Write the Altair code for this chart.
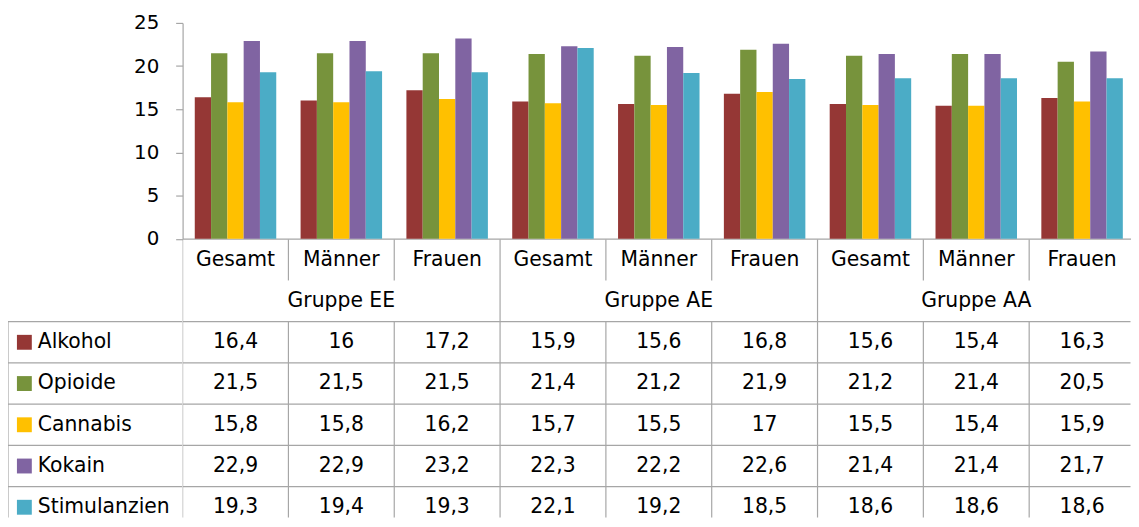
import altair as alt
import pandas as pd

# ---- data ----
groups = ["Gruppe EE", "Gruppe AE", "Gruppe AA"]
subgroups = ["Gesamt", "Männer", "Frauen"]
series = ["Alkohol", "Opioide", "Cannabis", "Kokain", "Stimulanzien"]
alkohol = [16.4, 16.0, 17.2, 15.9, 15.6, 16.8, 15.6, 15.4, 16.3]
opioide = [21.5, 21.5, 21.5, 21.4, 21.2, 21.9, 21.2, 21.4, 20.5]
cannabis = [15.8, 15.8, 16.2, 15.7, 15.5, 17.0, 15.5, 15.4, 15.9]
kokain = [22.9, 22.9, 23.2, 22.3, 22.2, 22.6, 21.4, 21.4, 21.7]
stimulanzien = [19.3, 19.4, 19.3, 22.1, 19.2, 18.5, 18.6, 18.6, 18.6]
colors = ["#953735", "#77933C", "#FFC000", "#8064A2", "#4BACC6"]
y_ticks = [0, 5, 10, 15, 20, 25]

FONT = "DejaVu Sans"
GRID = "#a6a6a6"
FS = 20.5

values = [alkohol, opioide, cannabis, kokain, stimulanzien]
cat_ids = [f"{g}|{s}" for g in groups for s in subgroups]


def fmt(v):
    s = f"{v:.1f}"
    if s.endswith(".0"):
        s = s[:-2]
    return s.replace(".", ",")


rows = []
for si, (name, vals) in enumerate(zip(series, values)):
    for ci, v in enumerate(vals):
        rows.append({"cat": cat_ids[ci], "col": ci, "series": name, "si": si,
                     "value": v, "label": fmt(v)})
df = pd.DataFrame(rows)

cat_df = pd.DataFrame({"col": list(range(9)),
                       "label": [subgroups[i % 3] for i in range(9)]})
grp_df = pd.DataFrame({"gi": list(range(3)), "label": groups})
ser_df = pd.DataFrame({"si": list(range(5)), "series": series})

# table lines (in table units: columns / rows)
seg = []
for k in range(10):
    if k % 3 == 0:
        seg.append({"x": k, "x2": k, "y": 0, "y2": 7})
    else:
        seg.append({"x": k, "x2": k, "y": 0, "y2": 1})
        seg.append({"x": k, "x2": k, "y": 2, "y2": 7})
for r in range(2, 8):
    seg.append({"x": 0, "x2": 9, "y": r, "y2": r})
seg_df = pd.DataFrame(seg)

lseg = [{"x": 0, "x2": 0, "y": 2, "y2": 7}]
for r in range(2, 8):
    lseg.append({"x": 0, "x2": 1, "y": r, "y2": r})
lseg_df = pd.DataFrame(lseg)

LEFT_W = 175.5
STEP = 106.67          # width of one category column
PLOT_W = 955.5         # visible part of the 9 columns
ROW_H = 41.57
BAR_H = 217.5
TAB_H = 280.5
X_MAX = PLOT_W / STEP
Y_MAX = TAB_H / ROW_H

color_scale = alt.Scale(domain=series, range=colors)

# ---- spacer ----
spacer = alt.Chart(pd.DataFrame({"a": [0]})).mark_point(opacity=0).encode(
    x=alt.X("a:Q", axis=None), y=alt.Y("a:Q", axis=None)
).properties(width=LEFT_W, height=BAR_H)

# ---- bars ----
pad_out = (X_MAX - 9 + 0.23) / 2
bars = alt.Chart(df).mark_bar().encode(
    x=alt.X("cat:N", sort=cat_ids,
            scale=alt.Scale(paddingInner=0.23, paddingOuter=pad_out, align=0.613),
            axis=alt.Axis(labels=False, ticks=False, title=None,
                          domainColor=GRID, domainWidth=1.2)),
    xOffset=alt.XOffset("series:N", sort=series, scale=alt.Scale(paddingInner=0, paddingOuter=0)),
    y=alt.Y("value:Q", scale=alt.Scale(domain=[0, 25], nice=False),
            axis=alt.Axis(values=y_ticks, grid=False, title=None,
                          tickSize=7, tickColor=GRID, tickWidth=1.2,
                          domainColor=GRID, domainWidth=1.2,
                          labelFontSize=20, labelColor="#000000",
                          labelPadding=17, labelFont=FONT)),
    color=alt.Color("series:N", scale=color_scale, legend=None),
).properties(width=PLOT_W, height=BAR_H)

# ---- table: left column ----
lx = alt.Scale(domain=[0, 1])
ty = alt.Scale(domain=[0, Y_MAX], reverse=True, nice=False, zero=False)

left_rules = alt.Chart(lseg_df).mark_rule(color=GRID, strokeWidth=1.2, clip=True).encode(
    x=alt.X("x:Q", scale=lx, axis=None), x2="x2:Q",
    y=alt.Y("y:Q", scale=ty, axis=None), y2="y2:Q",
)
left_sq = alt.Chart(ser_df).mark_square(size=225, opacity=1).transform_calculate(
    yy="datum.si + 2.5"
).encode(
    x=alt.value(16.5),
    y=alt.Y("yy:Q", scale=ty, axis=None),
    color=alt.Color("series:N", scale=color_scale, legend=None),
)
left_txt = alt.Chart(ser_df).mark_text(align="left", baseline="middle", fontSize=FS,
                                        font=FONT, color="#000000").transform_calculate(
    yy="datum.si + 2.5"
).encode(
    x=alt.value(30),
    y=alt.Y("yy:Q", scale=ty, axis=None),
    text="series:N",
)
left = alt.layer(left_rules, left_sq, left_txt).properties(width=LEFT_W, height=TAB_H)

# ---- table: right part ----
rx = alt.Scale(domain=[0, X_MAX], nice=False, zero=False)
right_rules = alt.Chart(seg_df).mark_rule(color=GRID, strokeWidth=1.2, clip=True).encode(
    x=alt.X("x:Q", scale=rx, axis=None), x2="x2:Q",
    y=alt.Y("y:Q", scale=ty, axis=None), y2="y2:Q",
)
cat_txt = alt.Chart(cat_df).mark_text(baseline="middle", fontSize=FS, font=FONT,
                                       color="#000000").transform_calculate(
    xx="datum.col + 0.5", yy="0.5"
).encode(
    x=alt.X("xx:Q", scale=rx, axis=None),
    y=alt.Y("yy:Q", scale=ty, axis=None),
    text="label:N",
)
grp_txt = alt.Chart(grp_df).mark_text(baseline="middle", fontSize=FS, font=FONT,
                                       color="#000000").transform_calculate(
    xx="datum.gi * 3 + 1.5", yy="1.5"
).encode(
    x=alt.X("xx:Q", scale=rx, axis=None),
    y=alt.Y("yy:Q", scale=ty, axis=None),
    text="label:N",
)
val_txt = alt.Chart(df).mark_text(baseline="middle", fontSize=FS, font=FONT,
                                   color="#000000").transform_calculate(
    xx="datum.col + 0.5", yy="datum.si + 2.5"
).encode(
    x=alt.X("xx:Q", scale=rx, axis=None),
    y=alt.Y("yy:Q", scale=ty, axis=None),
    text="label:N",
)
right = alt.layer(right_rules, cat_txt, grp_txt, val_txt).properties(width=PLOT_W, height=TAB_H)

chart = alt.concat(
    spacer, bars, left, right, columns=2, spacing=0, bounds="flush",
    padding={"top": 3, "left": 0, "right": 0, "bottom": 0},
).configure(font=FONT, background="#ffffff").configure_view(stroke="transparent", strokeWidth=0)

chart.save("out.html", embed_options={"renderer": "svg", "actions": False})
